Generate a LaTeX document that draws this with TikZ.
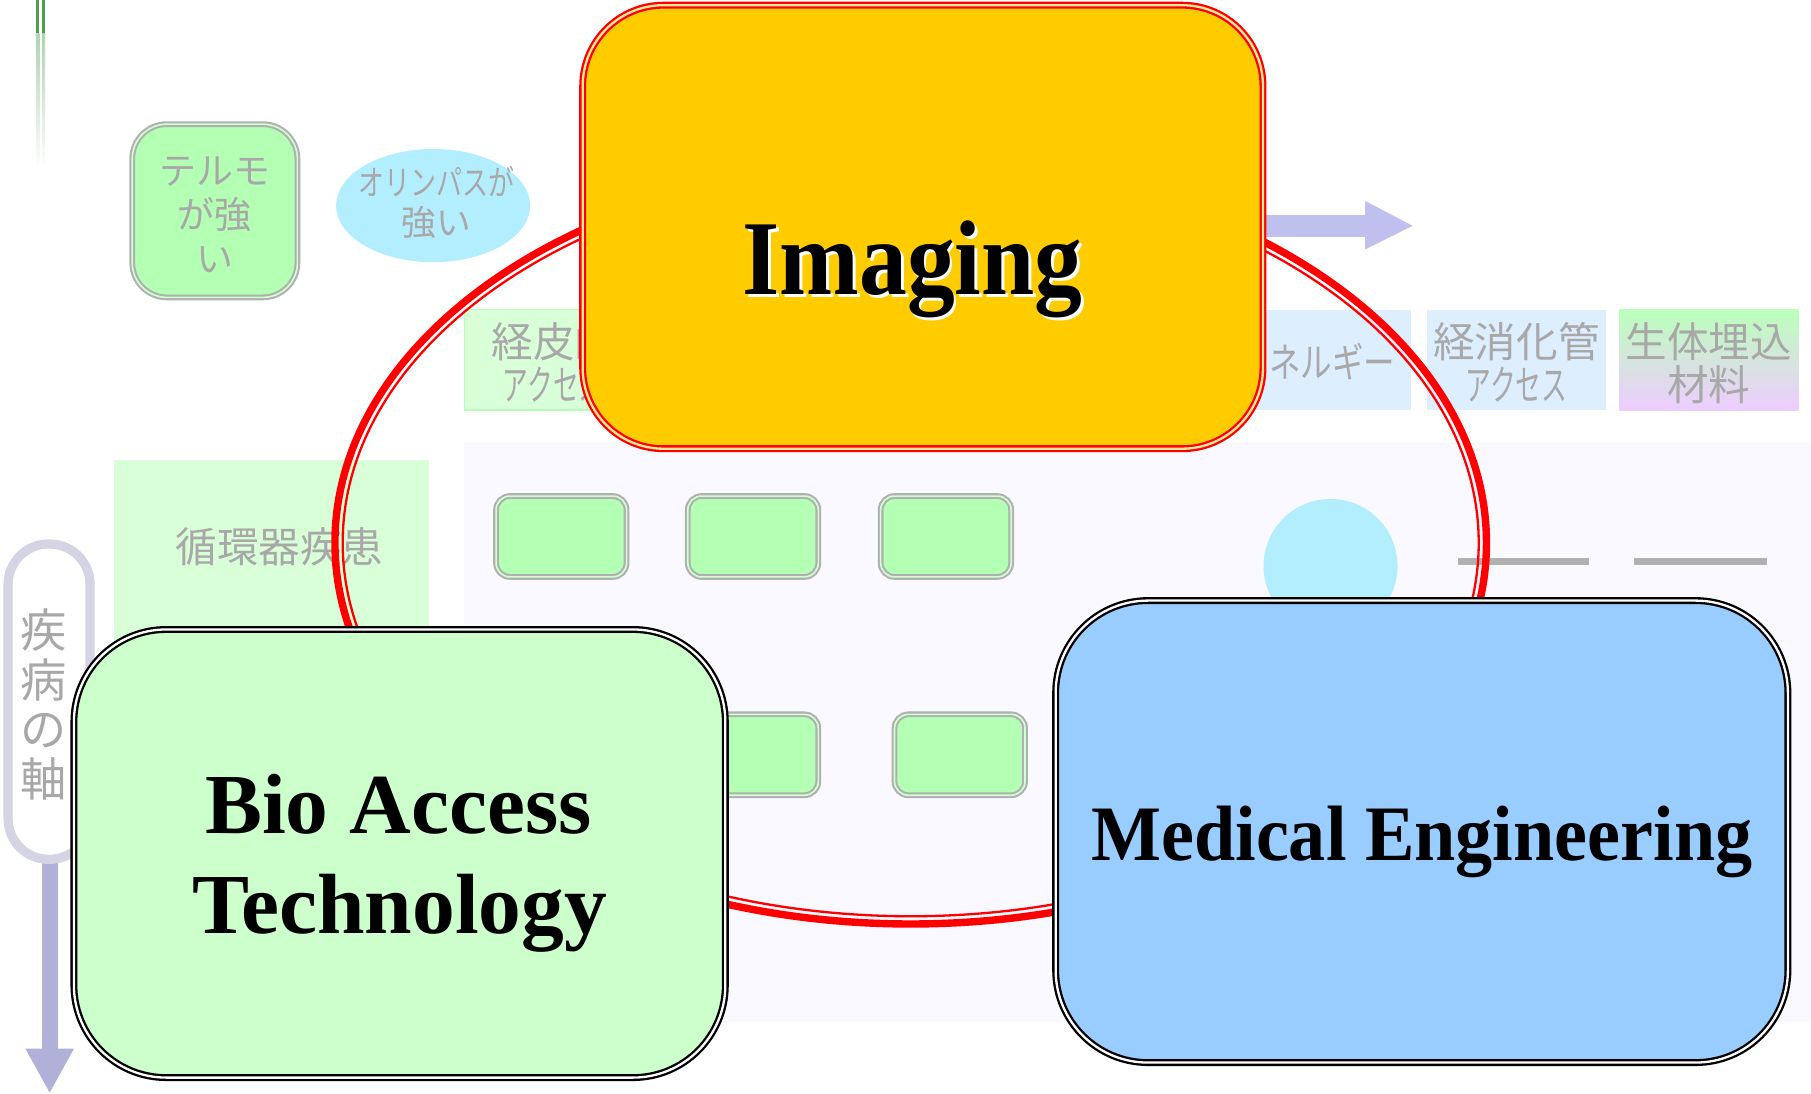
\documentclass[tikz,border=0pt]{standalone}
\usepackage{fontspec}
\usetikzlibrary{shapes.geometric}
\setmainfont{Liberation Serif}
\newfontfamily\jp{Noto Sans CJK JP}
\definecolor{jpgray}{HTML}{A8A8A8}
\definecolor{tlgreen}{HTML}{4E9E4E}
\definecolor{panelc}{HTML}{F9F9FF}
\definecolor{greenbox}{HTML}{B3FFB3}
\definecolor{rowgreen}{HTML}{D9FFD9}
\definecolor{rowblue}{HTML}{DDEEFF}
\definecolor{cyanc}{HTML}{B3EEFF}
\definecolor{boxgray}{HTML}{B0B0B0}
\definecolor{pillc}{HTML}{D4D4E4}
\definecolor{darrowc}{HTML}{B0B0D8}
\definecolor{rarrowc}{HTML}{C0C0EE}
\definecolor{imgyellow}{HTML}{FFCC00}
\definecolor{biogreen}{HTML}{CCFFCC}
\definecolor{medblue}{HTML}{99CCFF}
\definecolor{gradtop}{HTML}{BBFFBB}
\definecolor{gradbot}{HTML}{EECCFF}
\begin{document}
\begin{tikzpicture}[x=0.5pt,y=-0.5pt,
  jptext/.style={font=\jp, text=jpgray, align=center, inner sep=0pt},
  smallbox/.style={draw=boxgray, line width=0.9pt, double=greenbox!60!white, double distance=0.7pt,
    fill=greenbox, rounded corners=6pt, minimum width=56.5pt, minimum height=35pt, inner sep=0pt},
  rowbox/.style={rectangle, minimum width=77.5pt, minimum height=43.5pt, inner sep=0pt},
  mainbox/.style={rectangle, draw=black, line width=1pt, double=white, double distance=1pt, inner sep=0pt},
  bigtext/.style={font=\bfseries, text=black, inner sep=0pt, anchor=base}
]
\useasboundingbox (0,0) rectangle (1568,947);
\fill[white] (0,0) rectangle (1568,947);

% top-left fading lines
\fill[tlgreen] (31.5,0) rectangle (34,29);
\fill[tlgreen] (36.5,0) rectangle (39,29);
\shade[top color=tlgreen!45, bottom color=white] (31.5,29) rectangle (34,147);
\shade[top color=tlgreen!45, bottom color=white] (36.5,29) rectangle (39,147);

% background panel
\fill[panelc] (402,383) rectangle (1568,885);

% Terumo box and Olympus ellipse
\node[draw=boxgray, line width=0.9pt, double=greenbox!60!white, double distance=0.7pt,
  fill=greenbox, rounded corners=15pt, minimum width=71.5pt, minimum height=75pt, inner sep=0pt]
  (terumo) at (186,182.5) {};
\node[jptext, font=\jp\fontsize{16}{19}\selectfont] (terumot) at (186,186) {テルモ\\が強\\い};
\node[ellipse, fill=cyanc, minimum width=84pt, minimum height=49pt, inner sep=0pt] (olym) at (375,178) {};
\node[jptext, font=\jp\fontsize{15}{17.5}\selectfont] (olymt) at (378,175) {\scalebox{0.75}[1]{オリンパスが}\\強い};

% row of category boxes
\node[rowbox, fill=rowgreen, draw=greenbox, line width=0.6pt] (keihi) at (479.5,311.5) {};
\node[jptext, font=\jp\fontsize{18}{18}\selectfont] (keihit1) at (479.5,296) {経皮的};
\node[jptext, font=\jp\fontsize{18}{18}\selectfont] (keihit2) at (479.5,333) {\scalebox{0.62}[1]{アクセス}};

\node[rowbox, fill=rowblue] (energy) at (1144,311.5) {};
\node[jptext, font=\jp\fontsize{17.5}{17.5}\selectfont] (energyt) at (1140,313) {\scalebox{0.78}[1]{エネルギー}};

\node[rowbox, fill=rowblue] (shoka) at (1313,311.5) {};
\node[jptext, font=\jp\fontsize{18}{18}\selectfont] (shokat1) at (1313,296) {経消化管};
\node[jptext, font=\jp\fontsize{18}{18}\selectfont] (shokat2) at (1313,333) {\scalebox{0.62}[1]{アクセス}};

\shade[top color=gradtop, bottom color=gradbot] (1402,268) rectangle (1557,355);
\node[rowbox, minimum width=77.5pt] (umekomi) at (1479.5,311.5) {};
\node[jptext, font=\jp\fontsize{18}{18}\selectfont] (umekomit1) at (1479.5,296) {生体埋込};
\node[jptext, font=\jp\fontsize{18}{18}\selectfont] (umekomit2) at (1479.5,333) {材料};

% circulatory disease box
\fill[rowgreen] (99,398) rectangle (371,620);
\node[jptext, font=\jp\fontsize{18}{18}\selectfont] (junkan) at (242,473) {循環器疾患};

% small green boxes
\node[smallbox] (s1) at (486,464.5) {};
\node[smallbox] (s2) at (652,464.5) {};
\node[smallbox] (s3) at (819,464.5) {};
\node[smallbox] (s4) at (652,653.5) {};
\node[smallbox] (s5) at (831,653.5) {};

% cyan circle and gray bars
\node[circle, fill=cyanc, minimum size=58pt, inner sep=0pt] (circ) at (1152,490) {};
\draw[boxgray, line width=3pt] (1262,486) -- (1376,486);
\draw[boxgray, line width=3pt] (1415,486) -- (1530,486);

% disease axis pill and arrow
\fill[darrowc] (36,740) rectangle (50,909);
\fill[darrowc] (22,908) -- (64,908) -- (43,946) -- cycle;
\node[rectangle, draw=pillc, line width=4pt, fill=white, rounded corners=17.5pt,
  minimum width=35.5pt, minimum height=136.5pt, inner sep=0pt] (pill) at (42.5,607.5) {};
\node[jptext, font=\jp\fontsize{20}{21.5}\selectfont] (pillt) at (38,610) {疾\\病\\の\\軸};

% right arrow
\fill[rarrowc] (1080,186) rectangle (1183,205);
\fill[rarrowc] (1182,174) -- (1223,195.5) -- (1182,216) -- cycle;

% red ring (thick outer line, thin inner line)
\coordinate (ringc) at (788.5,470);
\draw[red, line width=3.2pt] (ringc) ellipse [x radius=249.25pt, y radius=165pt];
\draw[red, line width=1pt] (ringc) ellipse [x radius=245.9pt, y radius=161.65pt];

% main boxes
\node[mainbox, draw=red, double=imgyellow!40!white, fill=imgyellow, rounded corners=35pt,
  minimum width=294.5pt, minimum height=192pt] (imaging) at (799,196.5) {};
\node[bigtext, text=white, font=\fontsize{46}{50}\bfseries] (imgshadow) at (792.5,258) {\scalebox{0.9}[1]{Imaging}};
\node[bigtext, font=\fontsize{46}{50}\bfseries] (imgtext) at (790,255) {\scalebox{0.9}[1]{Imaging}};

\node[mainbox, fill=biogreen, rounded corners=40pt,
  minimum width=282pt, minimum height=194pt] (bio) at (346,739) {};
\node[bigtext, font=\fontsize{37}{43}\bfseries] (biot1) at (345,722) {Bio Access};
\node[bigtext, font=\fontsize{37}{43}\bfseries] (biot2) at (346,808) {Technology};

\node[mainbox, fill=medblue, rounded corners=40pt,
  minimum width=317pt, minimum height=200pt] (medical) at (1231,720) {};
\node[bigtext, font=\fontsize{34}{40}\bfseries] (medt) at (1231,745) {\scalebox{0.944}[1]{Medical Engineering}};
\end{tikzpicture}
\end{document}
